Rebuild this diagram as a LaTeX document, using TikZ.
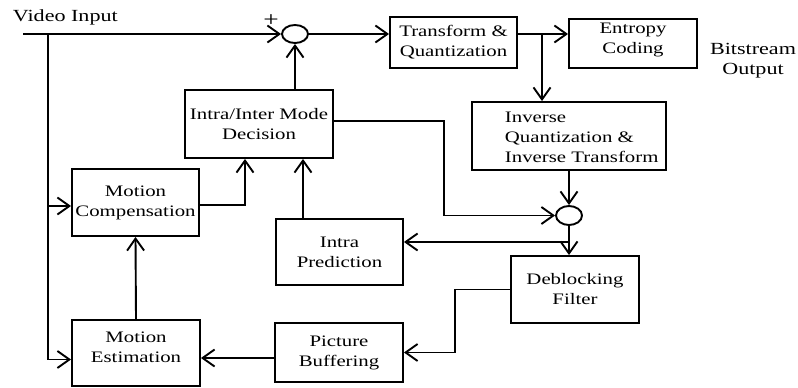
\documentclass[tikz,border=0pt]{standalone}
\usepackage{fontspec}
\setmainfont{Liberation Serif}[FakeStretch=1.3]
\usetikzlibrary{arrows.meta,shapes.geometric,calc}
\begin{document}
\begin{tikzpicture}[x=1pt,y=-1pt, line width=1.9pt,
  box/.style={draw, rectangle, inner sep=0pt, align=center, font=\fontsize{16}{20}\selectfont},
  sum/.style={draw, ellipse, inner sep=0pt, minimum width=26pt, minimum height=18pt},
  arr/.style={-{Straight Barb[length=12pt,width=17pt]}},
  lbl/.style={inner sep=0pt, align=center, font=\fontsize{16}{20}\selectfont}]
\useasboundingbox (0,0) rectangle (798,388);
% blocks
\node[box, minimum width=127pt, minimum height=51pt] (tq) at (453.5,42.5) {Transform \&\\Quantization};
\node[box, minimum width=128pt, minimum height=49pt] (ec) at (633,43.5) {Entropy\\Coding\\[-10pt]\mbox{}};
\node[box, minimum width=148pt, minimum height=68pt] (md) at (259,124) {Intra/Inter Mode\\Decision};
\node[box, minimum width=194pt, minimum height=68pt] (iq) at (569,136) {};
\node[lbl, align=left, anchor=west] (iqt) at (504,137) {Inverse\\Quantization \&\\Inverse Transform};
\node[box, minimum width=127pt, minimum height=67pt] (mc) at (135.5,202.5) {Motion\\Compensation};
\node[box, minimum width=127pt, minimum height=66pt] (ip) at (339.5,252) {Intra\\Prediction};
\node[box, minimum width=128pt, minimum height=67pt] (df) at (575,289.5) {Deblocking\\Filter};
\node[box, minimum width=128pt, minimum height=59pt] (pb) at (339,352.5) {Picture\\Buffering};
\node[box, minimum width=128pt, minimum height=66pt] (me) at (136,353) {Motion\\Estimation\\[-8pt]\mbox{}};
% adders
\node[sum] (a1) at (295,34) {};
\node[sum, minimum height=19pt] (a2) at (569,215.5) {};
% labels
\node[lbl, anchor=base west, font=\fontsize{17}{20}\selectfont] (vi) at (12,21) {Video Input};
\node[lbl, font=\fontsize{21}{20}\selectfont] (plus) at (271,20.5) {+};
\node[lbl, font=\fontsize{17}{20}\selectfont] (bo) at (753,61) {Bitstream\\Output};
% helper coordinates
\coordinate (in) at (23,34);
\coordinate (b1) at (48,34);
\coordinate (b2) at (542,34);
\coordinate (b3) at (569,242);
\coordinate (c3) at (444,215.5);
\coordinate (mcin) at ([yshift=-3.5pt]mc.west);
\coordinate (mein) at ([yshift=-6.5pt]me.west);
\coordinate (ipo) at ([xshift=-36.5pt]ip.north);
\coordinate (mdi) at ([xshift=-14pt]md.south);
\coordinate (pbo) at ([yshift=-5.5pt]pb.west);
% connectors
\draw[arr] (in) -- (a1.west);
\draw[arr] (b1) |- (mein);
\draw[arr] (b1 |- mcin) -- (mcin);
\draw[arr] (a1.east) -- (a1.east -| tq.west);
\draw[arr] (tq.east |- a1.east) -- (ec.west |- a1.east);
\draw[arr] (b2) -- (b2 |- iq.north);
\draw[arr] (md.north -| a1.south) -- (a1.south);
\draw[arr] ([yshift=3pt]md.east) -| (c3) -- (a2.west);
\draw[arr] (iq.south) -- (a2.north);
\draw[arr] (a2.south) -- (a2.south |- df.north);
\draw[arr] (b3) -- (b3 -| ip.east);
\draw[arr] (ipo) -- (ipo |- md.south);
\draw[arr] ([yshift=-2.5pt]mc.east) -| (mdi);
\draw[arr] (me.north) -- (mc.south);
\draw[arr] (df.west) -- ++(-55,0) |- (pb.east);
\draw[arr] (pbo) -- (pbo -| me.east);
\end{tikzpicture}
\end{document}
